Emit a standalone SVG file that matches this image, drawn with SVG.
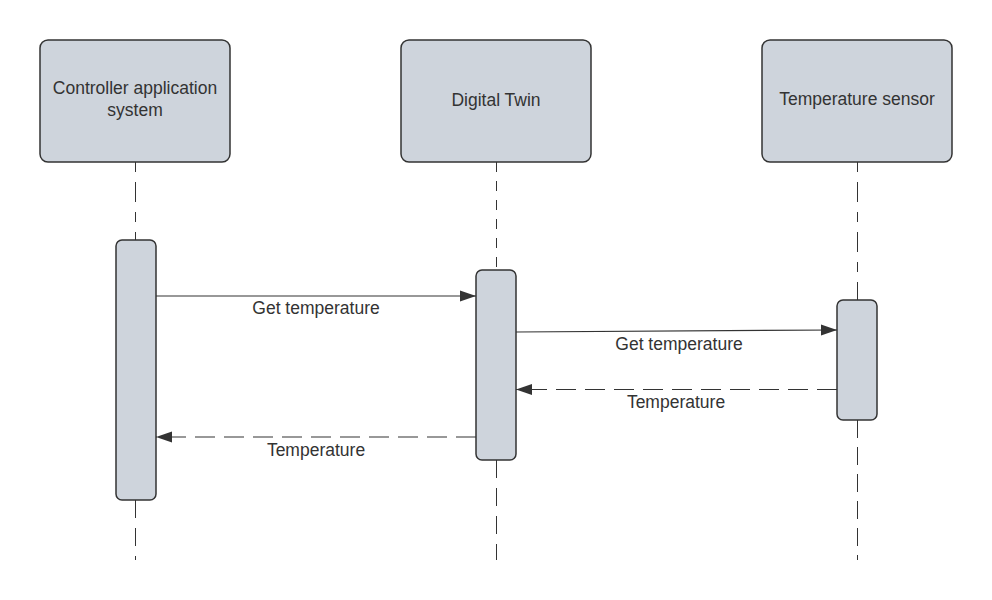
<svg xmlns="http://www.w3.org/2000/svg" width="992" height="600" viewBox="0 0 992 600">
<defs>
<style>
.box{fill:#ced4dc;stroke:#333;stroke-width:1.5}
.bar{fill:#ced4dc;stroke:#333;stroke-width:1.5}
.life{stroke:#333;stroke-width:1;fill:none}
.msg{stroke:#333;stroke-width:1.2;fill:none}
.ret{stroke:#333;stroke-width:1.2;fill:none;stroke-dasharray:20 9}
.t{font-family:"Liberation Sans",Arial,sans-serif;font-size:17.5px;fill:#333;text-anchor:middle}
</style>
<marker id="ah" markerUnits="userSpaceOnUse" markerWidth="17" markerHeight="12" refX="16" refY="6" orient="auto">
<path d="M0,0.5 L16,6 L0,11.5 z" fill="#333"/>
</marker>
</defs>
<rect width="992" height="600" fill="#fff"/>
<g id="lifelines">
<line class="life" x1="135.5" y1="162" x2="135.5" y2="240" style="stroke-dasharray:10 10 20 10"/>
<line class="life" x1="135.5" y1="500" x2="135.5" y2="560" style="stroke-dasharray:18 10"/>
<line class="life" x1="496.5" y1="162" x2="496.5" y2="270" style="stroke-dasharray:10 9"/>
<line class="life" x1="496.5" y1="460" x2="496.5" y2="560" style="stroke-dasharray:18 10"/>
<line class="life" x1="857.5" y1="162" x2="857.5" y2="300" style="stroke-dasharray:10 10 20 10"/>
<line class="life" x1="857.5" y1="420" x2="857.5" y2="560" style="stroke-dasharray:18 9"/>
</g>
<g id="controller">
<rect class="box" x="40" y="40" width="190" height="122" rx="8"/>
<text class="t" x="135" y="94">Controller application</text>
<text class="t" x="135" y="116">system</text>
</g>
<g id="digital-twin">
<rect class="box" x="401" y="40" width="190" height="122" rx="8"/>
<text class="t" x="496" y="106">Digital Twin</text>
</g>
<g id="sensor">
<rect class="box" x="762" y="40" width="190" height="122" rx="8"/>
<text class="t" x="857" y="105">Temperature sensor</text>
</g>
<g id="act-controller"><rect class="bar" x="116" y="240" width="40" height="260" rx="6"/></g>
<g id="act-twin"><rect class="bar" x="476" y="270" width="40" height="190" rx="6"/></g>
<g id="act-sensor"><rect class="bar" x="837" y="300" width="40" height="120" rx="6"/></g>
<g id="connectors">
<line class="msg" x1="156" y1="296" x2="476" y2="296" marker-end="url(#ah)"/>
<text class="t" x="316" y="314">Get temperature</text>
<line class="msg" x1="516" y1="332" x2="837" y2="330" marker-end="url(#ah)"/>
<text class="t" x="679" y="350">Get temperature</text>
<line class="ret" x1="837" y1="389.5" x2="516" y2="389.5" marker-end="url(#ah)"/>
<text class="t" x="676" y="408">Temperature</text>
<line class="ret" x1="476" y1="437" x2="156" y2="437" marker-end="url(#ah)"/>
<text class="t" x="316" y="456">Temperature</text>
</g>
</svg>
